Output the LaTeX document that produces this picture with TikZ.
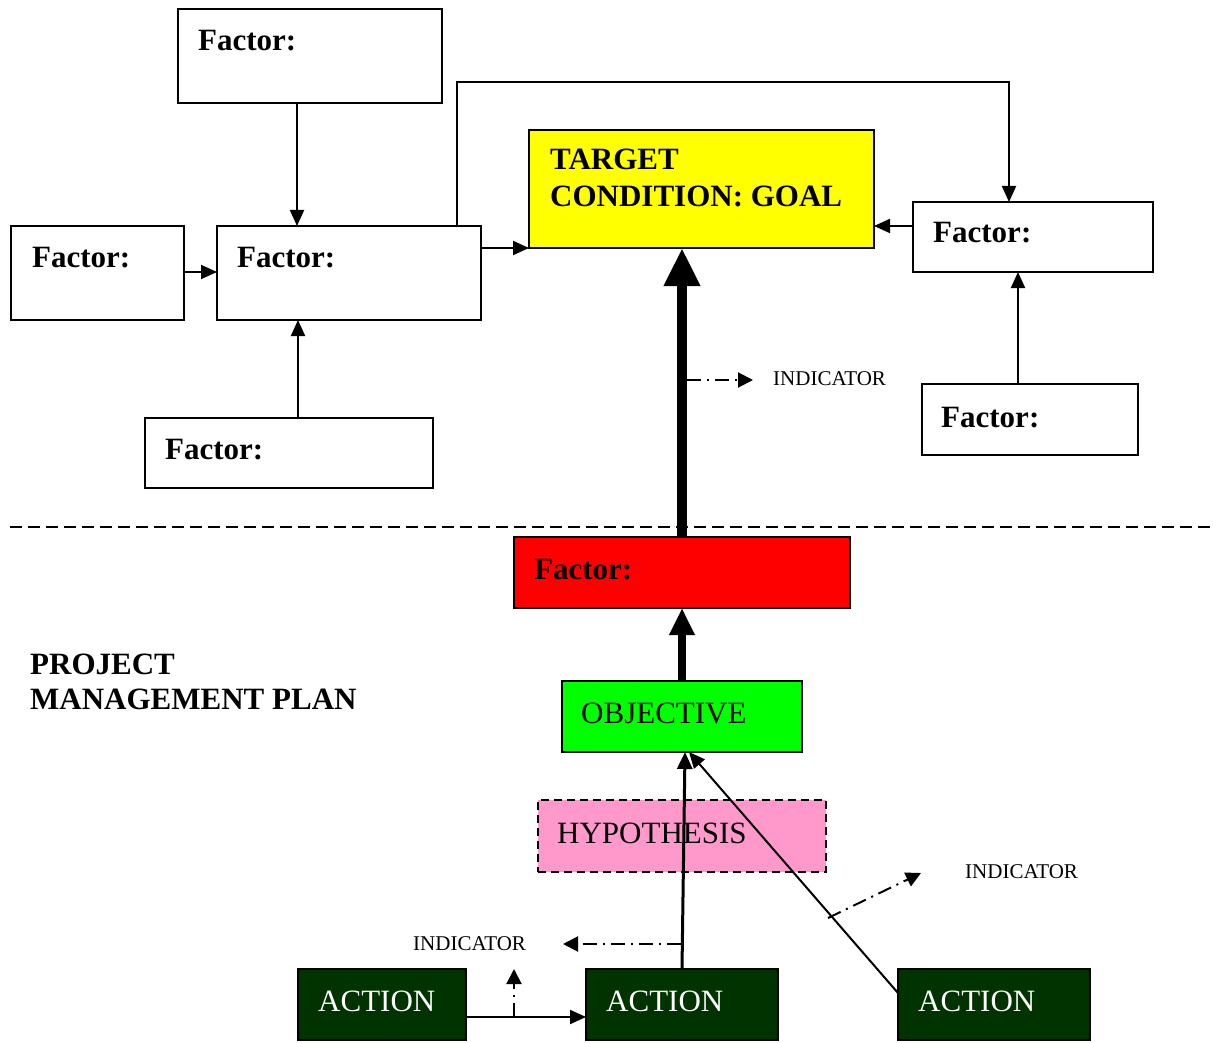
\documentclass[tikz,border=0pt]{standalone}
\usepackage{fontspec}
\setmainfont{Liberation Serif}
\usetikzlibrary{arrows.meta}
\definecolor{goalyellow}{HTML}{FFFF00}
\definecolor{factorred}{HTML}{FF0000}
\definecolor{objgreen}{HTML}{00FF00}
\definecolor{actgreen}{HTML}{003300}
\definecolor{hyppink}{HTML}{FF99CC}
\begin{document}
\begin{tikzpicture}[x=1pt,y=-1pt,
  box/.style={draw=black, line width=2pt, anchor=north west, inner sep=0pt, outer sep=0pt},
  boldtxt/.style={anchor=base west, inner sep=0pt, font=\fontsize{31}{37}\selectfont\bfseries},
  plaintxt/.style={anchor=base west, inner sep=0pt, font=\fontsize{31}{37}\selectfont},
  indtxt/.style={anchor=west, inner sep=0pt, font=\fontsize{21}{25}\selectfont},
  conn/.style={line width=2pt, -{Triangle[length=16pt,width=14pt]}},
  dashdot/.style={line width=2pt, dash pattern=on 14pt off 6pt on 2pt off 6pt,
                  -{Triangle[length=15pt,width=15pt]}},
]
\useasboundingbox (0,0) rectangle (1213,1043);

% ---------- upper part: the goal and its factors ----------
\node[box, minimum width=264, minimum height=94] (ftop) at (178,9) {};
\node[boldtxt] (ftop-t) at (198,51) {Factor:};

\node[box, minimum width=264, minimum height=94] (fmid) at (217,226) {};
\node[boldtxt] (fmid-t) at (237,267) {Factor:};

\node[box, minimum width=173, minimum height=94] (fleft) at (11,226) {};
\node[boldtxt] (fleft-t) at (32,267) {Factor:};

\node[box, minimum width=288, minimum height=70] (fbot) at (145,418) {};
\node[boldtxt] (fbot-t) at (165,459) {Factor:};

\node[box, fill=goalyellow, minimum width=345, minimum height=118] (goal) at (529,130) {};
\node[boldtxt] (goal-t1) at (550,170) {TARGET};
\node[boldtxt] (goal-t2) at (550,207) {CONDITION: GOAL};

\node[box, minimum width=240, minimum height=70] (fright) at (913,202) {};
\node[boldtxt] (fright-t) at (933,243) {Factor:};

\node[box, minimum width=216, minimum height=71] (frbot) at (922,384) {};
\node[boldtxt] (frbot-t) at (941,427) {Factor:};

\draw[conn] ([xshift=119pt]ftop.south west) -- ([xshift=80pt]fmid.north west);
\draw[conn] ([yshift=-46pt]fleft.north east) -- ([yshift=-46pt]fmid.north west);
\draw[conn] ([xshift=153pt]fbot.north west) -- ([xshift=81pt]fmid.south west);
\draw[conn] ([yshift=-22pt]fmid.north east) -- (goal.south west);
\draw[conn] ([xshift=240pt]fmid.north west) -- ++(0,-144) -| ([xshift=96pt]fright.north west);
\draw[conn] ([yshift=-24pt]fright.north west) -- ([yshift=-96pt]goal.north east);
\draw[conn] ([xshift=96pt]frbot.north west) -- ([xshift=105pt]fright.south west);

% ---------- boundary of the management plan ----------
\coordinate (sepL) at (10,527);
\coordinate (sepR) at (1213,527);
\draw[line width=2pt, dash pattern=on 12pt off 6pt] (sepL) -- (sepR);

% ---------- lower part: the management plan ----------
\node[box, fill=factorred, minimum width=336, minimum height=71] (red) at (514,537) {};
\node[boldtxt] (red-t) at (534,579) {Factor:};

\node[anchor=base west, inner sep=0pt, align=left, font=\fontsize{31}{35}\selectfont\bfseries]
  (pmp) at (30,709) {PROJECT\\MANAGEMENT PLAN};

\node[box, fill=objgreen, minimum width=240, minimum height=71] (obj) at (562,681) {};
\node[plaintxt] (obj-t) at (581,723) {OBJECTIVE};

\node[box, fill=hyppink, dash pattern=on 8pt off 5pt, minimum width=288, minimum height=72] (hyp) at (538,800) {};
\node[plaintxt] (hyp-t) at (557,843) {HYPOTHESIS};

\node[box, fill=actgreen, minimum width=168, minimum height=71] (act1) at (298,969) {};
\node[plaintxt, text=white] (act1-t) at (318,1011) {ACTION};
\node[box, fill=actgreen, minimum width=192, minimum height=71] (act2) at (586,969) {};
\node[plaintxt, text=white] (act2-t) at (606,1011) {ACTION};
\node[box, fill=actgreen, minimum width=192, minimum height=71] (act3) at (898,969) {};
\node[plaintxt, text=white] (act3-t) at (918,1011) {ACTION};

% main causal chain
\draw[line width=10pt, -{Triangle[length=38pt,width=34pt]}] (red.north) -- (red.north |- goal.south);
\draw[line width=8pt, -{Triangle[length=27pt,width=24pt]}] (obj.north) -- (red.south);
\draw[line width=3pt, -{Triangle[length=17pt,width=15pt]}] (act2.north) -- ([xshift=3pt]obj.south);
\draw[conn] ([yshift=-24pt]act3.north west) -- ([xshift=7pt]obj.south);
\draw[conn] ([yshift=-48pt]act1.north east) -- ([yshift=-48pt]act2.north west);

% indicators
\node[indtxt] (ind1) at (773,379) {INDICATOR};
\node[indtxt] (ind2) at (413,944) {INDICATOR};
\node[indtxt] (ind3) at (965,872) {INDICATOR};

\coordinate (ind1-s) at (687,380);
\coordinate (ind1-e) at (753,380);
\draw[dashdot] (ind1-s) -- (ind1-e);

\coordinate (ind2-s) at (681,944);
\coordinate (ind2-e) at (563,944);
\draw[dashdot] (ind2-s) -- (ind2-e);

\coordinate (ind3-s) at (828,918);
\coordinate (ind3-e) at (921,873);
\draw[dashdot] (ind3-s) -- (ind3-e);

\coordinate (ind4-s) at (514,1017);
\coordinate (ind4-e) at (514,969);
\draw[dashdot] (ind4-s) -- (ind4-e);
\end{tikzpicture}
\end{document}
